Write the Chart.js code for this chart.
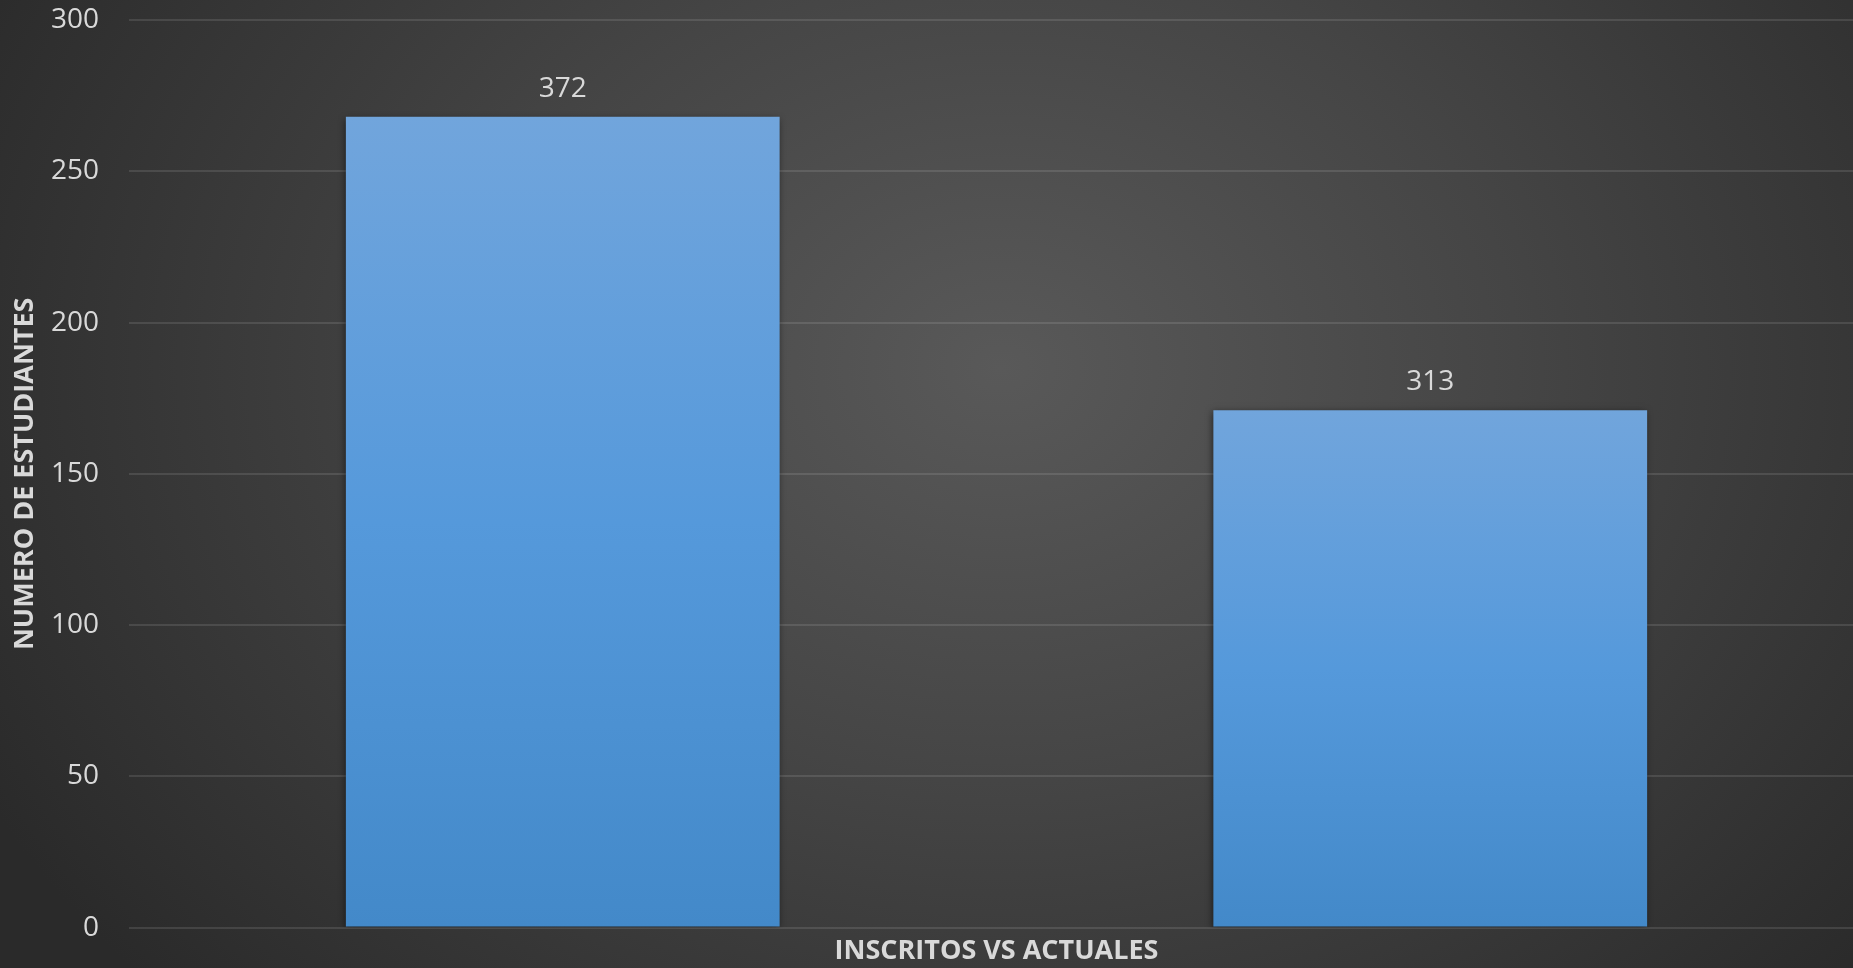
<!DOCTYPE html>
<html>
<head>
<meta charset="utf-8">
<script src="https://cdn.jsdelivr.net/npm/chart.js@4/dist/chart.umd.min.js"></script>
<style>
  html, body { margin: 0; padding: 0; }
  body {
    width: 1853px; height: 968px; overflow: hidden;
    background: #2a2a2a radial-gradient(ellipse 62% 95% at 54% 38%, #595959 0%, #454545 45%, #2a2a2a 100%);
  }
  /* plot area runs a little past the right edge, as in the original */
  #wrap { width: 1864px; height: 968px; }
</style>
</head>
<body>
<div id="wrap"><canvas id="chart"></canvas></div>
<script>
// data
var categories = ['INSCRITOS', 'ACTUALES'];
var barValues = [268, 171];
var barLabels = ['372', '313'];
var yTicks = [0, 50, 100, 150, 200, 250, 300];

var textColor = '#d9d9d9';
var fontFamily = '"Open Sans", "Noto Sans", sans-serif';

function barGradient(context) {
  const chart = context.chart;
  const yScale = chart.scales.y;
  if (!chart.chartArea || !yScale) {
    return '#5599db';
  }
  const top = yScale.getPixelForValue(barValues[context.dataIndex]);
  const bottom = yScale.getPixelForValue(0);
  const g = chart.ctx.createLinearGradient(0, top, 0, bottom);
  g.addColorStop(0, '#71a5dc');
  g.addColorStop(0.5, '#5599db');
  g.addColorStop(1, '#4389c9');
  return g;
}

//shadow behind the bars, labels above them
const barExtras = {
  id: 'barExtras',
  beforeDatasetsDraw(chart) {
    const ctx = chart.ctx;
    ctx.save();
    ctx.shadowColor = 'rgba(0,0,0,0.55)';
    ctx.shadowBlur = 7;
    ctx.shadowOffsetX = -1;
    ctx.shadowOffsetY = 2;
  },
  afterDatasetsDraw(chart) {
    const ctx = chart.ctx;
    ctx.restore();
    const meta = chart.getDatasetMeta(0);
    ctx.save();
    ctx.fillStyle = textColor;
    ctx.font = '28px ' + fontFamily;
    ctx.textAlign = 'center';
    ctx.textBaseline = 'middle';
    meta.data.forEach(function(bar, i) {
      ctx.fillText(barLabels[i], bar.x, bar.y - 28);
    });
    ctx.restore();
  }
};

const canvas = document.getElementById('chart');
new Chart(canvas, {
  type: 'bar',
  data: {
    labels: categories,
    datasets: [
      {
        label: 'Estudiantes',
        data: barValues,
        backgroundColor: barGradient,
        borderWidth: 0,
        categoryPercentage: 1,
        barPercentage: 0.5
      }
    ]
  },
  plugins: [barExtras],
  options: {
    responsive: true,
    maintainAspectRatio: false,
    animation: false,
    devicePixelRatio: 1,
    layout: { padding: { top: 20, right: 0, bottom: 0, left: 0 } },
    plugins: {
      legend: { display: false },
      tooltip: { enabled: false }
    },
    scales: {
      x: {
        grid: { display: false, drawTicks: false },
        border: { display: false },
        ticks: { display: false },
        title: {
          display: true,
          text: 'INSCRITOS VS ACTUALES',
          color: textColor,
          font: { family: fontFamily, size: 27, weight: 'bold' },
          padding: { top: 8, bottom: 0 }
        }
      },
      y: {
        min: 0,
        max: 300,
        afterBuildTicks: function(axis) {
          axis.ticks = yTicks.map(v => ({ value: v }));
        },
        afterFit: function(axis) {
          axis.width = 129;
          axis.paddingTop = 0;
          axis.paddingBottom = 0;
        },
        border: { display: false },
        grid: {
          color: 'rgba(255,255,255,0.11)',
          lineWidth: 2,
          drawTicks: false
        },
        ticks: {
          color: textColor,
          padding: 30,
          font: { family: fontFamily, size: 28 }
        },
        title: {
          display: true,
          text: 'NUMERO DE ESTUDIANTES',
          color: textColor,
          font: { family: fontFamily, size: 27, weight: 'bold' },
          padding: { top: 9, bottom: 0 }
        }
      }
    }
  }
});
</script>
</body>
</html>
